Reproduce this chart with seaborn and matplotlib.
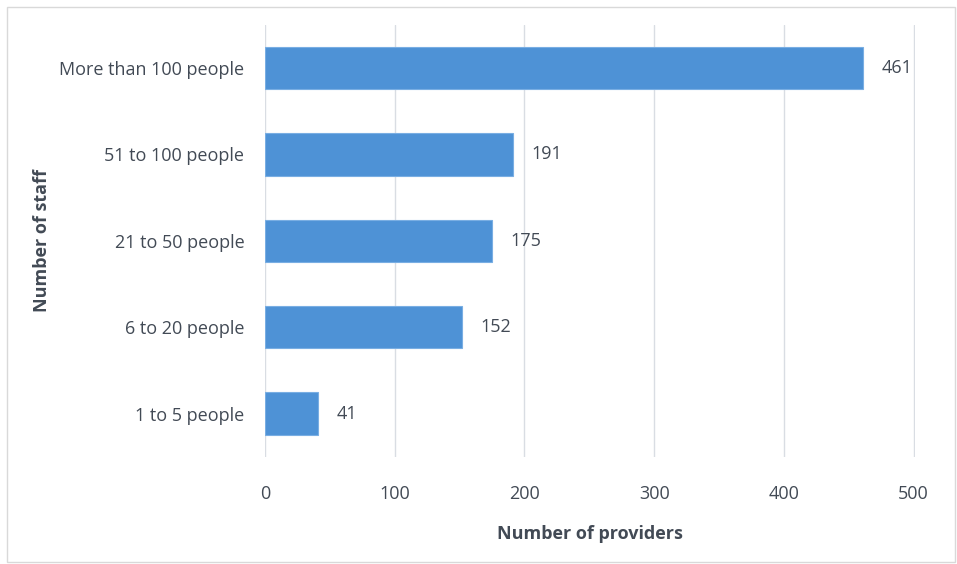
import pandas as pd
import seaborn as sns
import matplotlib.pyplot as plt
from matplotlib.patches import Rectangle

# Dados
categorias = ['More than 100 people', '51 to 100 people', '21 to 50 people',
              '6 to 20 people', '1 to 5 people']
provedores = [461, 191, 175, 152, 41]
x_ticks = [0, 100, 200, 300, 400, 500]

df = pd.DataFrame({'Staff': categorias, 'Providers': provedores})

sns.set_style("white")
plt.rcParams['font.family'] = ['Open Sans', 'DejaVu Sans']

texto = '#424a55'
fs = 13
fig = plt.figure(figsize=(9.57, 5.64), dpi=100)
ax = fig.add_axes([0.277, 0.19, 0.679, 0.766])

sns.barplot(data=df, x='Providers', y='Staff', order=categorias,
            color='#4e92d6', saturation=1, width=0.49, ax=ax,
            edgecolor='#79aee3', linewidth=0.8, zorder=3)

for i, v in enumerate(provedores):
    ax.text(v + 14, i, str(v), va='center', ha='left', fontsize=fs, color=texto)

ax.set_xlim(0, 501)
ax.set_xticks(x_ticks)
ax.grid(axis='x', color='#d9dde3', linewidth=1, zorder=0)
ax.grid(axis='y', visible=False)
for s in ax.spines.values():
    s.set_visible(False)
ax.tick_params(axis='both', length=0, labelsize=fs, colors=texto)
ax.tick_params(axis='x', pad=20)
ax.tick_params(axis='y', pad=15)

ax.set_xlabel('Number of providers', fontsize=fs, fontweight='bold', color=texto, labelpad=16)
ax.set_ylabel('Number of staff', fontsize=fs, fontweight='bold', color=texto, labelpad=0)
ax.yaxis.set_label_coords(-0.33, 0.5)

# moldura do gráfico
fig.patches.append(Rectangle((7 / 957, 2 / 564), 948 / 957, 555 / 564,
                             transform=fig.transFigure, fill=False,
                             edgecolor='#d9d9d9', linewidth=1))

plt.savefig('out.png', dpi=100)
